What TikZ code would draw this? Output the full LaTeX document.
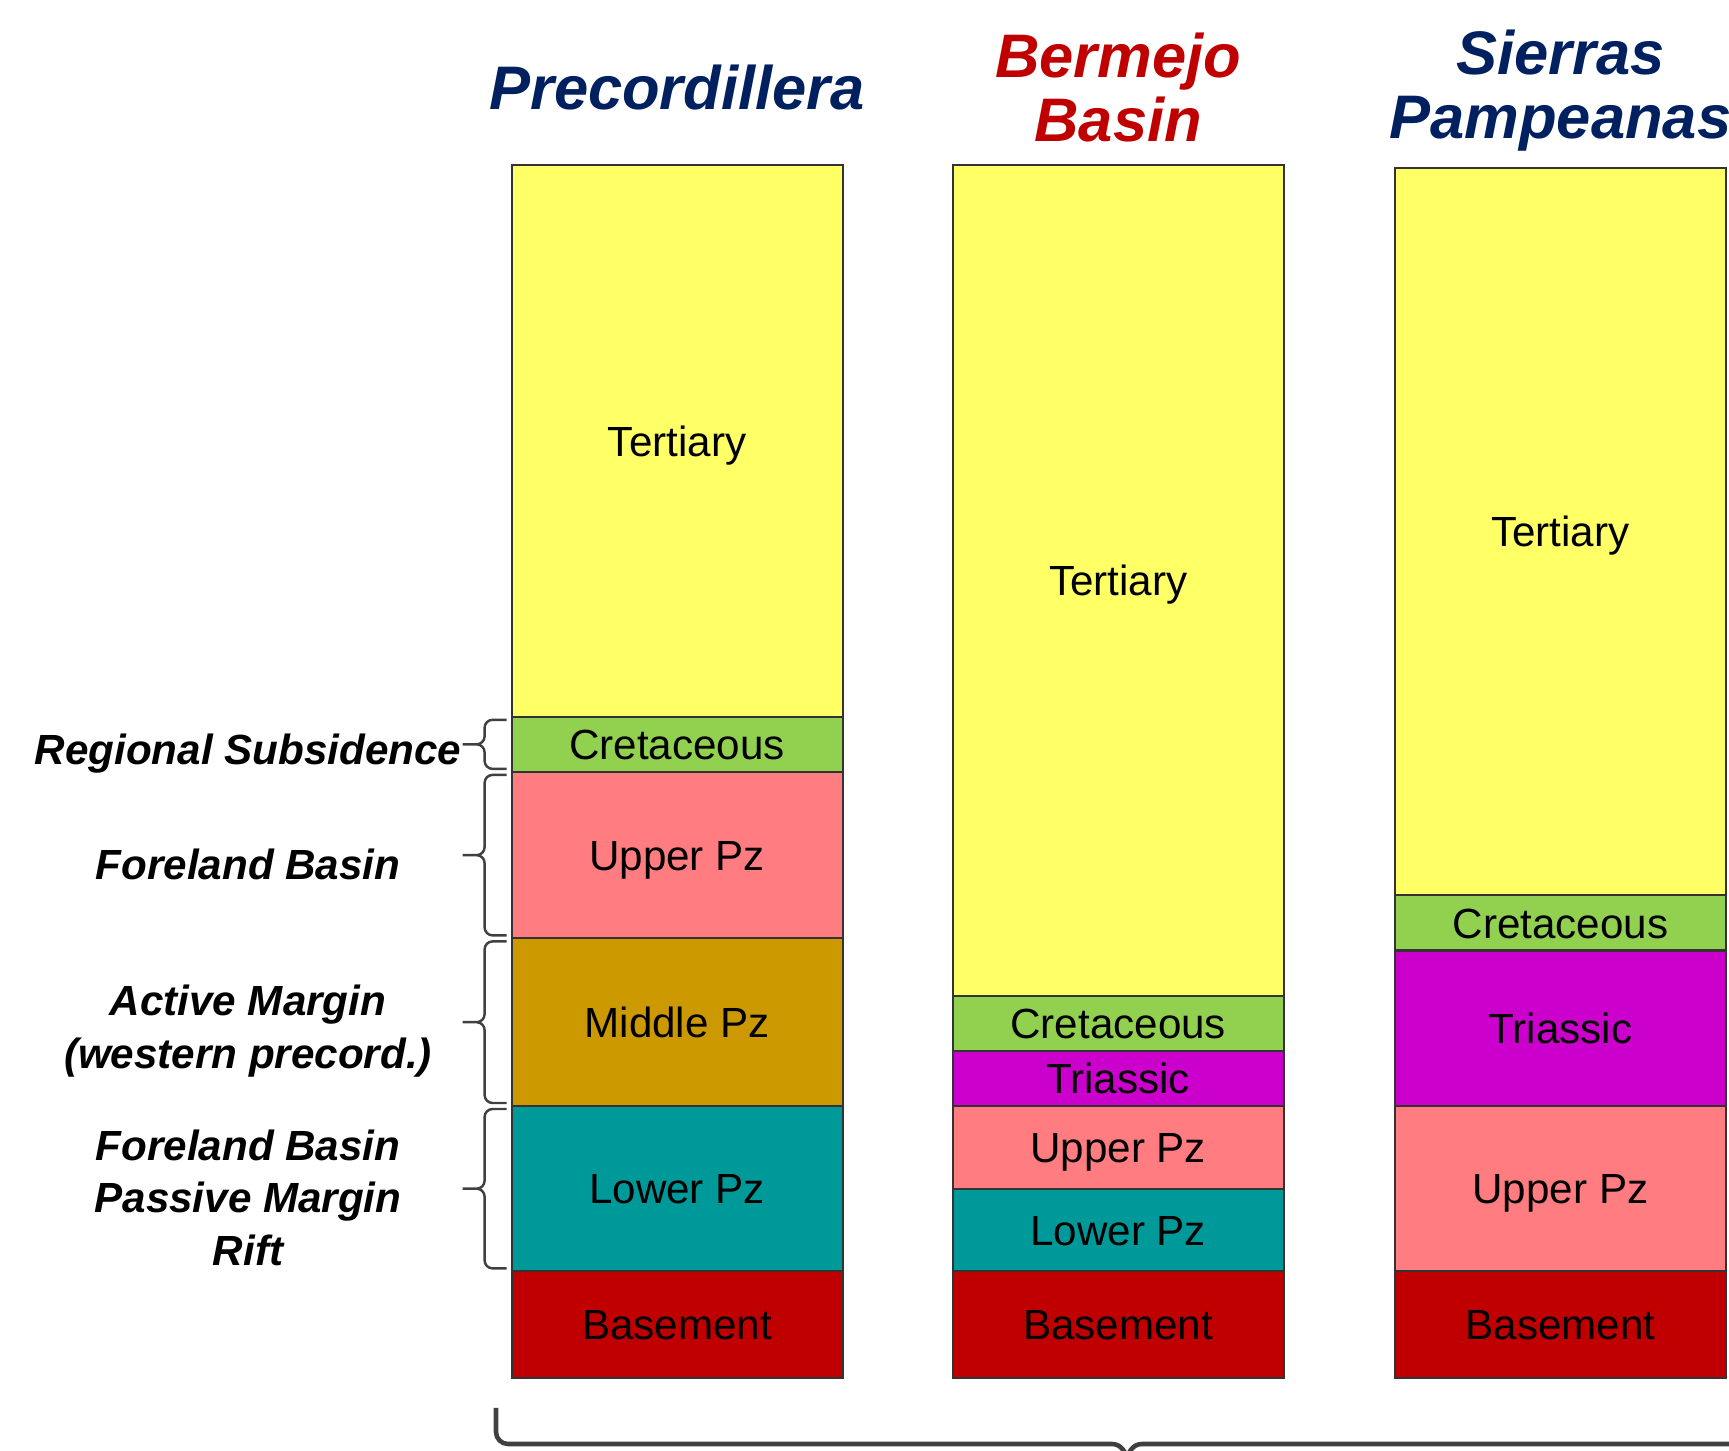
\documentclass[tikz,border=0pt]{standalone}
\usepackage{fontspec}
\setmainfont{Liberation Sans}
\usetikzlibrary{positioning}

\definecolor{tertiary}{HTML}{FFFF66}
\definecolor{cretaceous}{HTML}{92D050}
\definecolor{triassic}{HTML}{CC00CC}
\definecolor{upperpz}{HTML}{FF7C80}
\definecolor{middlepz}{HTML}{CC9900}
\definecolor{lowerpz}{HTML}{009999}
\definecolor{basement}{HTML}{C00000}
\definecolor{navy}{HTML}{002060}
\definecolor{titlered}{HTML}{C00000}

\tikzset{
  layer/.style={draw=black!80, line width=0.6pt, minimum width=33.1mm,
    inner sep=0pt, outer sep=0pt, text height=8.6pt, text depth=0pt,
    font=\fontsize{12}{14}\selectfont},
  title/.style={font=\fontsize{17.5}{18}\selectfont\bfseries\itshape, align=center},
  stage/.style={font=\fontsize{12}{15}\selectfont\bfseries\itshape, align=center, yshift=-0.9mm},
  bracket/.style={draw=black!75, line width=0.7pt, rounded corners=0.8mm}
}

\begin{document}
\begin{tikzpicture}[x=0.1mm,y=-0.1mm]
  \useasboundingbox (0,0) rectangle (1729,1451);

  % Precordillera column
  \node[layer, fill=tertiary, minimum height=55.14mm, anchor=north west] (p-ter) at (511.6,165.4) {Tertiary};
  \node[layer, fill=cretaceous, minimum height=5.51mm, below=0pt of p-ter] (p-cre) {Cretaceous};
  \node[layer, fill=upperpz, minimum height=16.65mm, below=0pt of p-cre] (p-upp) {Upper Pz};
  \node[layer, fill=middlepz, minimum height=16.76mm, below=0pt of p-upp] (p-mid) {Middle Pz};
  \node[layer, fill=lowerpz, minimum height=16.54mm, below=0pt of p-mid] (p-low) {Lower Pz};
  \node[layer, fill=basement, minimum height=10.70mm, below=0pt of p-low] (p-bas) {Basement};

  % Bermejo Basin column
  \node[layer, fill=tertiary, minimum height=83.03mm, anchor=north west] (b-ter) at (952.7,165.4) {Tertiary};
  \node[layer, fill=cretaceous, minimum height=5.51mm, below=0pt of b-ter] (b-cre) {Cretaceous};
  \node[layer, fill=triassic, minimum height=5.51mm, below=0pt of b-cre] (b-tri) {Triassic};
  \node[layer, fill=upperpz, minimum height=8.27mm, below=0pt of b-tri] (b-upp) {Upper Pz};
  \node[layer, fill=lowerpz, minimum height=8.27mm, below=0pt of b-upp] (b-low) {Lower Pz};
  \node[layer, fill=basement, minimum height=10.70mm, below=0pt of b-low] (b-bas) {Basement};

  % Sierras Pampeanas column
  \node[layer, fill=tertiary, minimum height=72.78mm, anchor=north west] (s-ter) at (1394.9,167.6) {Tertiary};
  \node[layer, fill=cretaceous, minimum height=5.51mm, below=0pt of s-ter] (s-cre) {Cretaceous};
  \node[layer, fill=triassic, minimum height=15.55mm, below=0pt of s-cre] (s-tri) {Triassic};
  \node[layer, fill=upperpz, minimum height=16.54mm, below=0pt of s-tri] (s-upp) {Upper Pz};
  \node[layer, fill=basement, minimum height=10.70mm, below=0pt of s-upp] (s-bas) {Basement};

  % titles
  \node[title, text=navy] (t-prec) at ([yshift=7.8mm]p-ter.north) {Precordillera};
  \node[title, text=titlered] (t-berm) at ([yshift=7.8mm]b-ter.north) {Bermejo\\Basin};
  \node[title, text=navy] (t-sier) at ([yshift=7.7mm]s-ter.north) {Sierras\\Pampeanas};

  % tectonic stages
  \foreach \lay in {cre,upp,mid,low} {
    \coordinate (top) at ([xshift=-0.5mm,yshift=-0.3mm]p-\lay.north west);
    \coordinate (bot) at ([xshift=-0.5mm,yshift=0.3mm]p-\lay.south west);
    \coordinate (tip) at ([xshift=-4.9mm]p-\lay.west);
    \draw[bracket] (top) -- ++(-22,0) |- (tip) (tip) -| ([xshift=-2.2mm]bot) -- (bot);
  }
  \node[stage] (st-sub) at (248,0 |- p-cre) {Regional Subsidence};
  \node[stage] (st-fore) at (248,0 |- p-upp) {Foreland Basin};
  \node[stage] (st-act) at (248,0 |- p-mid) {Active Margin\\(western precord.)};
  \node[stage] (st-rift) at (248,0 |- p-low) {Foreland Basin\\Passive Margin\\Rift};

  % brace under the columns
  \draw[draw=black!75, line width=1.3pt] (496,1408) -- (496,1432) to[out=-90,in=180] (508,1444)
    -- (1112,1444) to[out=0,in=90] (1127,1462) to[out=90,in=180] (1142,1444) -- (1790,1444);
\end{tikzpicture}
\end{document}
